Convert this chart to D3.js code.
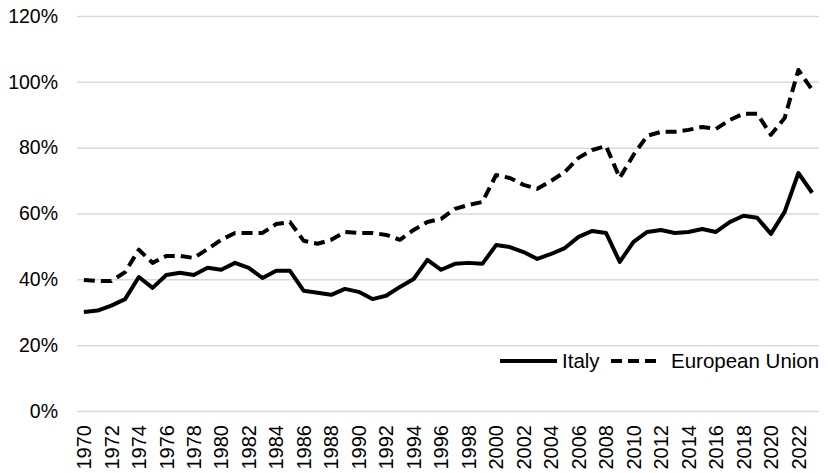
<!DOCTYPE html>
<html>
<head>
<meta charset="utf-8">
<script src="https://cdn.jsdelivr.net/npm/d3@7"></script>
<style>
  body { margin: 0; background: #fff; }
  text { font-family: "Liberation Sans", Arial, sans-serif; fill: #000; }
</style>
</head>
<body>
<svg id="chart"></svg>
<script>
const years = d3.range(1970, 2024);
const italy = [30.1, 30.5, 32.0, 34.0, 40.7, 37.4, 41.3, 42.0, 41.3, 43.5,
  42.9, 45.0, 43.5, 40.4, 42.6, 42.6, 36.5, 35.9, 35.3, 37.1,
  36.2, 34.0, 35.0, 37.7, 40.1, 45.9, 42.9, 44.7, 45.0, 44.7,
  50.4, 49.8, 48.3, 46.2, 47.7, 49.5, 52.9, 54.7, 54.1, 45.3,
  51.4, 54.4, 55.0, 54.1, 54.4, 55.3, 54.4, 57.4, 59.3, 58.7,
  53.8, 60.5, 72.3, 66.3];
const eu = [39.8, 39.5, 39.5, 42.2, 49.0, 45.0, 47.1, 47.1, 46.5, 49.2,
  52.0, 54.1, 54.1, 54.1, 56.8, 57.4, 51.7, 50.8, 52.0, 54.4,
  54.1, 54.1, 53.5, 52.0, 55.0, 57.4, 58.4, 61.4, 62.6, 63.5,
  71.7, 70.8, 68.7, 67.5, 69.9, 72.6, 76.9, 79.3, 80.5, 70.8,
  77.8, 83.6, 84.8, 84.8, 85.4, 86.3, 85.7, 88.4, 90.3, 90.3,
  83.9, 89.0, 103.6, 97.6];
const yTicks = [0, 20, 40, 60, 80, 100, 120];
const seriesNames = ["Italy", "European Union"];

const config = {
  width: 828, height: 473,
  margin: { top: 16, right: 9, bottom: 62, left: 77 }
};

const svg = d3.select("#chart")
    .attr("width", config.width)
    .attr("height", config.height);

const innerW = config.width - config.margin.left - config.margin.right;
const innerH = config.height - config.margin.top - config.margin.bottom;

const g = svg.append("g")
    .attr("transform", `translate(${config.margin.left},${config.margin.top})`);

const xScale = d3.scaleBand()
    .domain(years)
    .range([0, innerW]);

const yScale = d3.scaleLinear()
    .domain([0, 120])
    .range([innerH, 0]);

// gridlines + y labels
const yAxis = d3.axisLeft(yScale)
    .tickValues(yTicks)
    .tickSize(-innerW)
    .tickFormat(d => d + "%");

g.append("g")
    .attr("class", "y-axis")
    .call(yAxis)
    .call(a => a.select(".domain").remove())
    .call(a => a.selectAll("line").attr("stroke", "#d9d9d9").attr("stroke-width", 1.5))
    .call(a => a.selectAll("text")
        .attr("x", -19)
        .style("font-size", "19.5px")
        .style("font-family", "Liberation Sans, Arial, sans-serif"));

// x axis labels, every other year
const xAxis = d3.axisBottom(xScale)
    .tickValues(years.filter(y => y % 2 === 0))
    .tickSize(0);

g.append("g")
    .attr("class", "x-axis")
    .attr("transform", `translate(0,${innerH})`)
    .call(xAxis)
    .call(a => a.select(".domain").remove())
    .call(a => a.selectAll("text")
        .attr("transform", "rotate(-90)")
        .attr("x", -14)
        .attr("y", 0)
        .attr("dy", "0.36em")
        .attr("text-anchor", "end")
        .style("font-size", "20px")
        .style("font-family", "Liberation Sans, Arial, sans-serif"));

const line = d3.line()
    .x((d, i) => xScale(years[i]) + xScale.bandwidth() / 2)
    .y(d => yScale(d));

g.append("path")
    .datum(eu)
    .attr("fill", "none")
    .attr("stroke", "#000")
    .attr("stroke-width", 4)
    .attr("stroke-dasharray", "11,6")
    .attr("stroke-linejoin", "round")
    .attr("d", line);

g.append("path")
    .datum(italy)
    .attr("fill", "none")
    .attr("stroke", "#000")
    .attr("stroke-width", 4)
    .attr("stroke-linejoin", "round")
    .attr("d", line);

// legend
const legend = svg.append("g").attr("class", "legend");
const legendY = 361;
legend.append("line")
    .attr("x1", 500).attr("x2", 557)
    .attr("y1", legendY).attr("y2", legendY)
    .attr("stroke", "#000").attr("stroke-width", 4);
legend.append("text")
    .attr("x", 562).attr("y", legendY)
    .attr("dy", "0.36em")
    .style("font-size", "20.5px")
    .text(seriesNames[0]);
legend.append("line")
    .attr("x1", 611).attr("x2", 659)
    .attr("y1", legendY).attr("y2", legendY)
    .attr("stroke", "#000").attr("stroke-width", 4)
    .attr("stroke-dasharray", "11,6");
legend.append("text")
    .attr("x", 671).attr("y", legendY)
    .attr("dy", "0.36em")
    .style("font-size", "20.5px")
    .text(seriesNames[1]);
</script>
</body>
</html>
